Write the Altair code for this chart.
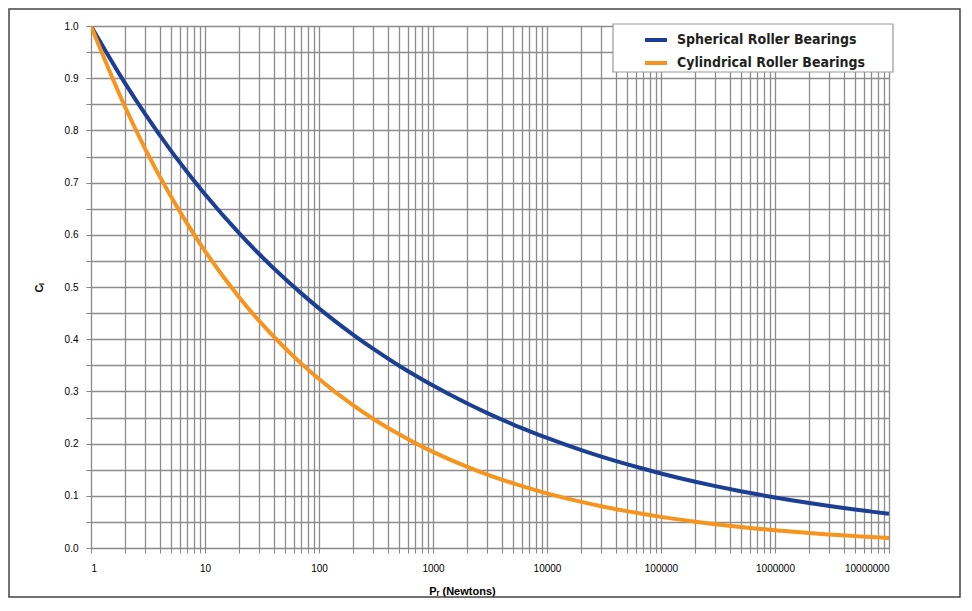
import altair as alt
import pandas as pd

P = [1, 2, 3, 5, 7, 10, 20, 30, 50, 70, 100, 200, 300, 500, 700, 1000,
     2000, 3000, 5000, 7000, 10000, 20000, 30000, 50000, 70000, 100000,
     200000, 300000, 500000, 700000, 1000000, 2000000, 3000000, 5000000,
     7000000, 10000000]
spherical = [1.0, 0.8895, 0.8305, 0.7617, 0.7199,
             0.6776, 0.6027, 0.5627, 0.5161, 0.4878,
             0.4591, 0.4084, 0.3813, 0.3497, 0.3305,
             0.3111, 0.2767, 0.2584, 0.2370, 0.2240,
             0.2108, 0.1875, 0.1751, 0.1606, 0.1518,
             0.1428, 0.1270, 0.1186, 0.1088, 0.1028,
             0.0968, 0.0861, 0.0804, 0.0737, 0.0697,
             0.0656]
cylindrical = [1.0, 0.8438, 0.7638, 0.6742, 0.6209,
               0.5689, 0.4800, 0.4345, 0.3836, 0.3532,
               0.3236, 0.2731, 0.2472, 0.2182, 0.2009,
               0.1841, 0.1553, 0.1406, 0.1241, 0.1143,
               0.1047, 0.0883, 0.0800, 0.0706, 0.0650,
               0.0596, 0.0503, 0.0455, 0.0402, 0.0370,
               0.0339, 0.0286, 0.0259, 0.0228, 0.0210,
               0.0193]
series_names = ["Spherical Roller Bearings", "Cylindrical Roller Bearings"]
series_colors = ["#1c3f94", "#f7941d"]

x_grid = [m * 10 ** e for e in range(7) for m in range(1, 10)] + [10000000]
x_labels = [1, 10, 100, 1000, 10000, 100000, 1000000, 10000000]
y_grid = [round(i * 0.05, 2) for i in range(21)]

rows = []
for p, s, c in zip(P, spherical, cylindrical):
    rows.append({"P": p, "C": s, "series": series_names[0]})
    rows.append({"P": p, "C": c, "series": series_names[1]})
df = pd.DataFrame(rows)

FONT = "DejaVu Sans Condensed, Liberation Sans Narrow, Liberation Sans"
GRID = "#8c8c8c"
label_list = "[" + ",".join(str(v) for v in x_labels) + "]"

lines = alt.Chart(df).mark_line(strokeWidth=4, interpolate="monotone", clip=True).encode(
    x=alt.X("P:Q", scale=alt.Scale(type="log", domain=[1, 10000000], nice=False),
            axis=alt.Axis(values=x_grid, format="d", labelOverlap=False,
                          labelExpr="indexof(" + label_list + ", datum.value) >= 0 ? format(datum.value, 'd') : ''",
                          title="Pᵣ (Newtons)", titleX=371, titlePadding=12,
                          labelPadding=10, grid=True, gridColor=GRID,
                          gridWidth=1.3, gridOpacity=1)),
    y=alt.Y("C:Q", scale=alt.Scale(domain=[0, 1], nice=False),
            axis=alt.Axis(values=y_grid, labelOverlap=False,
                          labelExpr="round(datum.value*100) % 10 == 0 ? format(datum.value, '.1f') : ''",
                          title="Cₗ", titlePadding=20, labelPadding=8,
                          grid=True, gridColor=GRID, gridWidth=1.3, gridOpacity=1)),
    color=alt.Color("series:N",
                    scale=alt.Scale(domain=series_names, range=series_colors),
                    legend=alt.Legend(title=None, orient="none", legendX=522, legendY=-1,
                                      symbolType="stroke", symbolStrokeWidth=4,
                                      symbolSize=484, symbolOffset=28,
                                      labelFontSize=14, labelFont=FONT,
                                      labelFontWeight="bold", labelColor="#231f20",
                                      labelLimit=400, padding=2, rowPadding=2,
                                      labelOffset=8)),
)

frame = alt.Chart(pd.DataFrame({"a": [0]})).mark_rect(
    fill=None, stroke="#444", strokeWidth=1.5, clip=False
).encode(x=alt.value(-82), x2=alt.value(869), y=alt.value(-17), y2=alt.value(571))

legend_box = alt.Chart(pd.DataFrame({"a": [0]})).mark_rect(
    fill="white", stroke="#999", strokeWidth=1.2, clip=False
).encode(x=alt.value(522), x2=alt.value(802), y=alt.value(-2), y2=alt.value(46))

chart = alt.layer(frame, lines, legend_box).properties(
    width=798, height=522,
    autosize=alt.AutoSizeParams(type="none"),
    padding={"left": 83, "top": 18, "right": 72, "bottom": 50},
).configure_axis(
    domainColor="#888", domainWidth=1.3, tickColor="#888", tickSize=4, tickWidth=1.3,
    labelFont=FONT, labelFontSize=11.5, labelColor="#333",
    titleFont=FONT, titleFontSize=11, titleFontWeight="bold", titleColor="#222",
).configure_view(stroke=GRID, strokeWidth=1.3).configure(background="white")

chart.save("out.html", embed_options={"renderer": "svg", "actions": False})
